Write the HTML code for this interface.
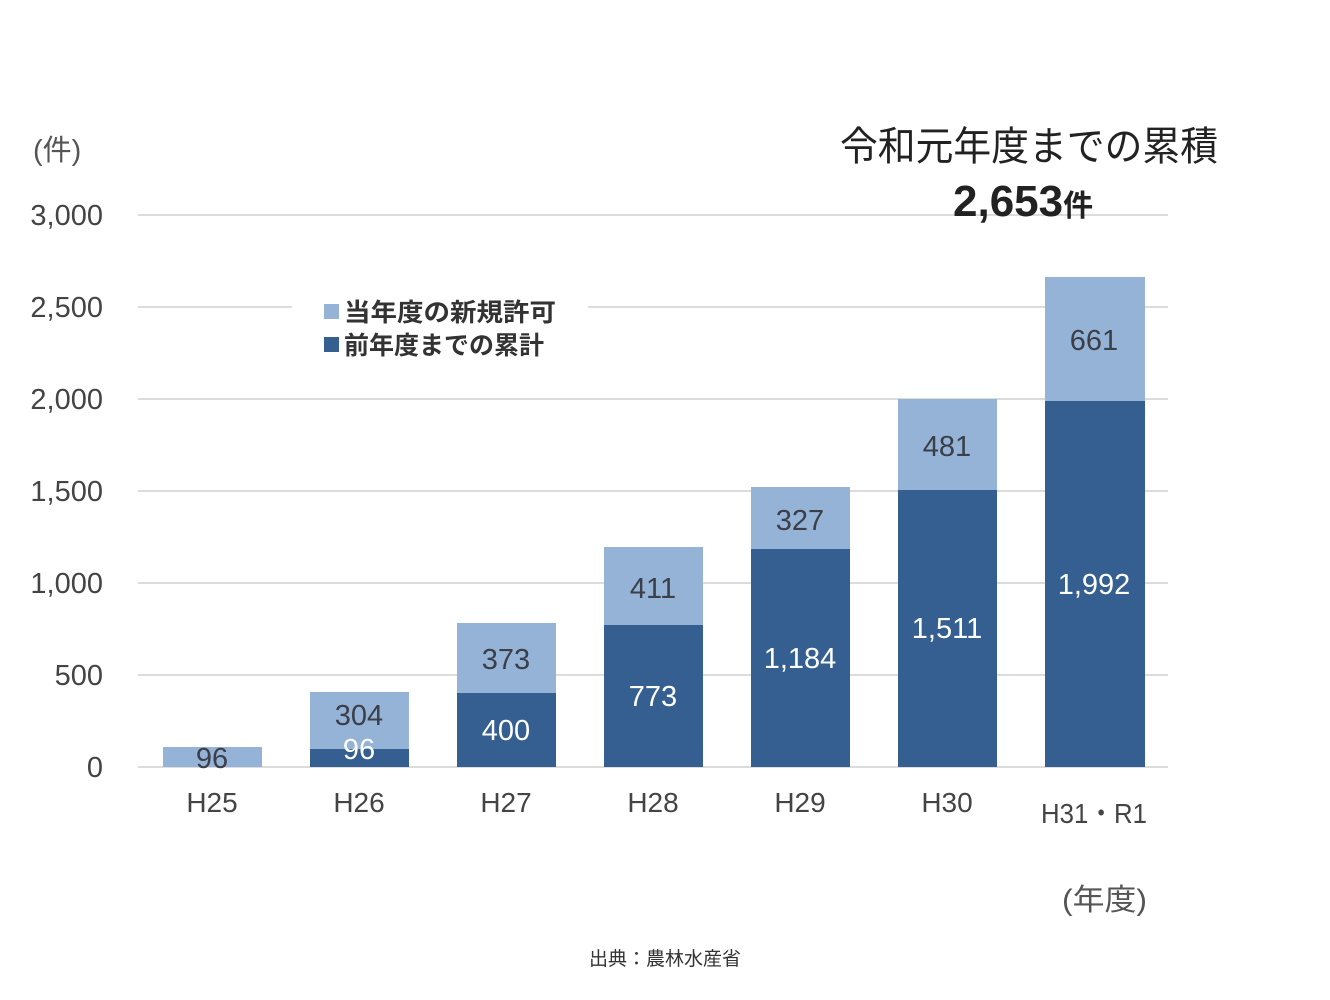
<!DOCTYPE html>
<html><head><meta charset="utf-8"><style>
html,body{margin:0;padding:0;background:#fff;}
svg{display:block;font-family:"Liberation Sans","Noto Sans CJK JP",sans-serif;}
</style></head><body>
<svg width="1330" height="1000" xmlns="http://www.w3.org/2000/svg">
<g stroke="#dcdcdc" stroke-width="2">
<line x1="138" x2="1168" y1="215" y2="215"/>
<line x1="138" x2="1168" y1="307" y2="307"/>
<line x1="138" x2="1168" y1="399" y2="399"/>
<line x1="138" x2="1168" y1="491" y2="491"/>
<line x1="138" x2="1168" y1="583" y2="583"/>
<line x1="138" x2="1168" y1="675" y2="675"/>
<line x1="138" x2="1168" y1="767" y2="767"/>
</g>
<rect x="292" y="290" width="296" height="72" fill="#fff"/>
<g fill="#444" font-size="29" text-anchor="end">
<text x="103" y="225">3,000</text><text x="103" y="317">2,500</text><text x="103" y="409">2,000</text>
<text x="103" y="501">1,500</text><text x="103" y="593">1,000</text><text x="103" y="685">500</text><text x="103" y="777">0</text>
</g>
<text x="33" y="160" font-size="29" fill="#555">(件)</text>
<g fill="#95b3d7">
<rect x="163" y="747" width="99" height="20"/>
<rect x="310" y="692" width="99" height="57"/>
<rect x="457" y="623" width="99" height="70"/>
<rect x="604" y="547" width="99" height="78"/>
<rect x="751" y="487" width="99" height="62"/>
<rect x="898" y="399" width="99" height="91"/>
<rect x="1045" y="277" width="100" height="124"/>
</g>
<g fill="#355f91">
<rect x="310" y="749" width="99" height="18"/>
<rect x="457" y="693" width="99" height="74"/>
<rect x="604" y="625" width="99" height="142"/>
<rect x="751" y="549" width="99" height="218"/>
<rect x="898" y="490" width="99" height="277"/>
<rect x="1045" y="401" width="100" height="366"/>
</g>
<g font-size="29" text-anchor="middle" fill="#3a3f48">
<text x="212" y="768">96</text><text x="359" y="725">304</text><text x="506" y="669">373</text>
<text x="653" y="598">411</text><text x="800" y="530">327</text><text x="947" y="456">481</text><text x="1094" y="350">661</text>
</g>
<g font-size="29" text-anchor="middle" fill="#fff">
<text x="359" y="759">96</text><text x="506" y="740">400</text><text x="653" y="706">773</text>
<text x="800" y="668">1,184</text><text x="947" y="638">1,511</text><text x="1094" y="594">1,992</text>
</g>
<g font-size="28" text-anchor="middle" fill="#444">
<text x="212" y="812">H25</text><text x="359" y="812">H26</text><text x="506" y="812">H27</text>
<text x="653" y="812">H28</text><text x="800" y="812">H29</text><text x="947" y="812">H30</text><text x="1094" y="823" textLength="106" lengthAdjust="spacingAndGlyphs">H31・R1</text>
</g>
<text x="1062" y="910" font-size="30" fill="#555" textLength="85" lengthAdjust="spacingAndGlyphs">(年度)</text>
<rect x="324" y="304" width="15" height="15" fill="#95b3d7"/>
<rect x="324" y="337" width="15" height="15" fill="#355f91"/>
<text x="344" y="321" font-size="25" fill="#333" font-weight="bold" textLength="212" lengthAdjust="spacingAndGlyphs">当年度の新規許可</text>
<text x="344" y="354" font-size="25" fill="#333" font-weight="bold" textLength="200" lengthAdjust="spacingAndGlyphs">前年度までの累計</text>
<text x="840" y="160" font-size="40" fill="#222" textLength="378" lengthAdjust="spacingAndGlyphs">令和元年度までの累積</text>
<text x="953" y="216" font-size="44" fill="#222" font-weight="bold">2,653<tspan font-size="30">件</tspan></text>
<text x="665" y="965" font-size="19" fill="#333" text-anchor="middle">出典：農林水産省</text>
</svg>
</body></html>
